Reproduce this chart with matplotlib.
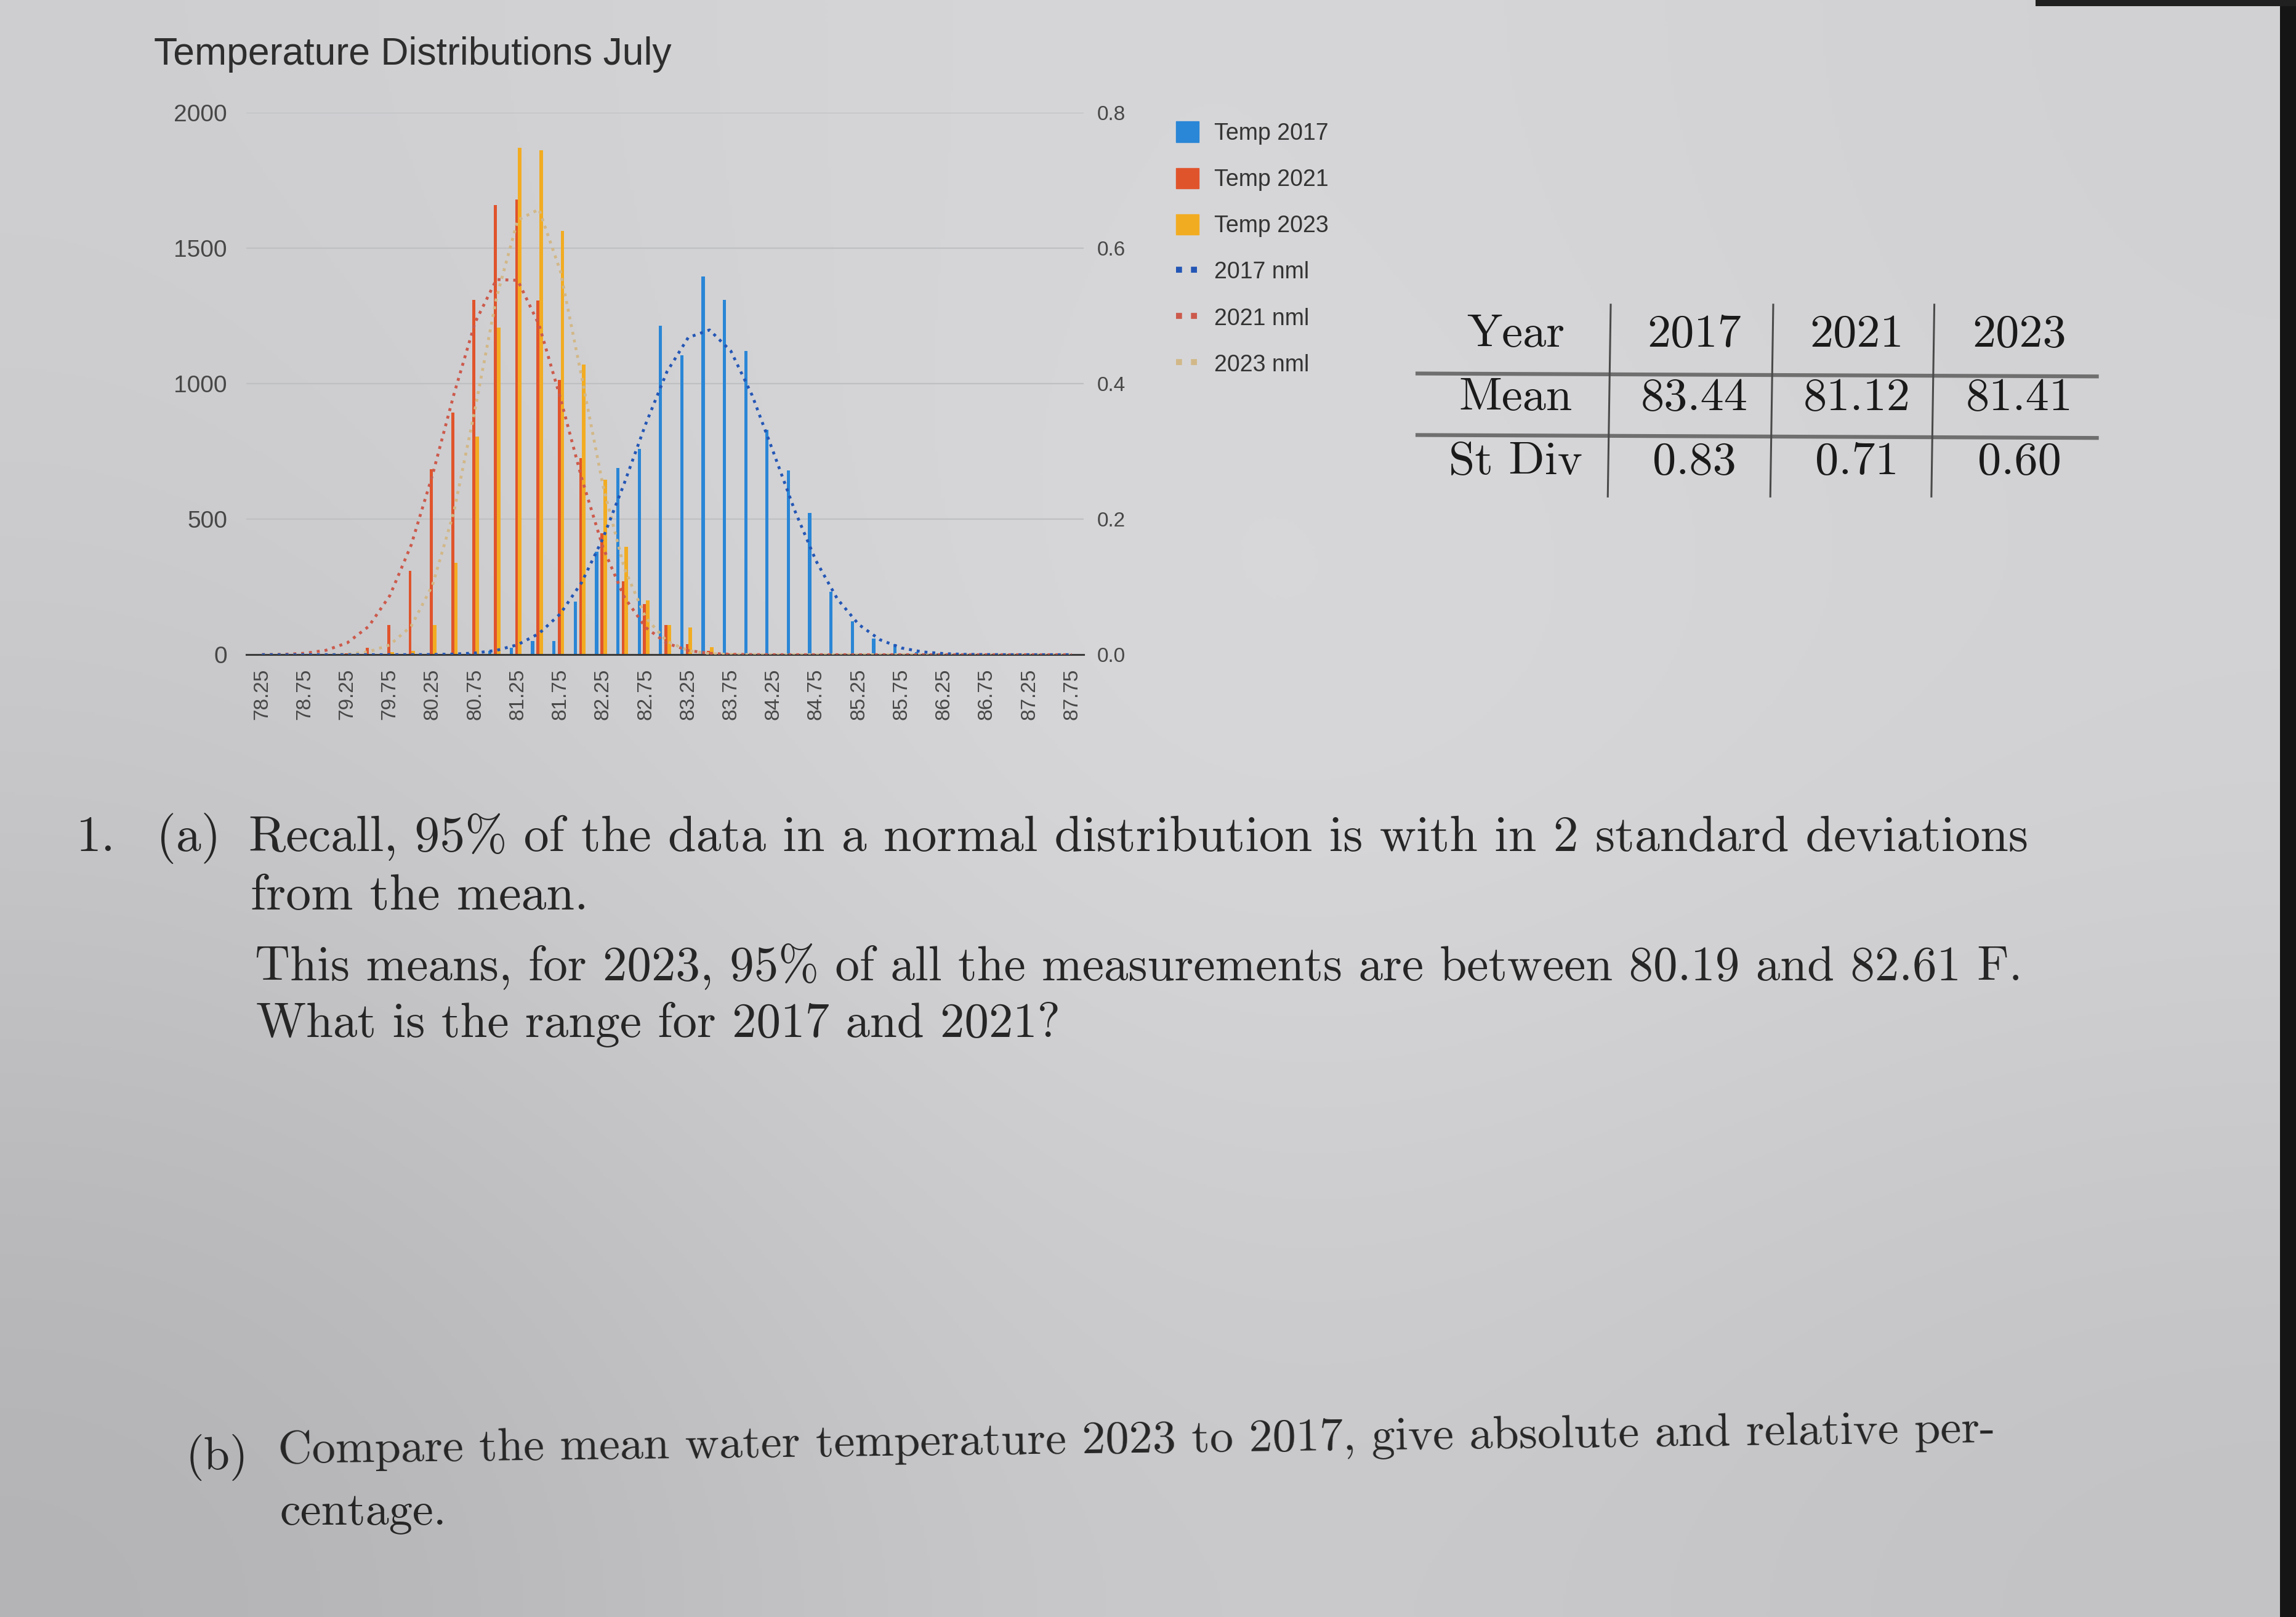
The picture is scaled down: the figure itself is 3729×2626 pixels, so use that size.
import numpy as np
import matplotlib
matplotlib.use("Agg")
import matplotlib.pyplot as plt
from matplotlib.patches import Patch, Rectangle
from matplotlib.lines import Line2D

# ---------------- data ----------------
categories = [78.25, 78.5, 78.75, 79.0, 79.25, 79.5, 79.75, 80.0, 80.25, 80.5,
              80.75, 81.0, 81.25, 81.5, 81.75, 82.0, 82.25, 82.5, 82.75, 83.0,
              83.25, 83.5, 83.75, 84.0, 84.25, 84.5, 84.75, 85.0, 85.25, 85.5,
              85.75, 86.0, 86.25, 86.5, 86.75, 87.0, 87.25, 87.5, 87.75]

temp_2017 = [0, 0, 0, 0, 0, 0, 0, 0, 0, 2,
             5, 15, 25, 50, 50, 195, 380, 690, 760, 1215,
             1105, 1395, 1310, 1120, 829, 681, 523, 233, 123, 59,
             40, 10, 5, 2, 0, 0, 0, 0, 0]

temp_2021 = [0, 0, 0, 2, 5, 25, 110, 310, 685, 893,
             1309, 1660, 1680, 1308, 1015, 725, 448, 270, 186, 110,
             40, 15, 5, 2, 0, 0, 0, 0, 0, 0,
             0, 0, 0, 0, 0, 0, 0, 0, 0]

temp_2023 = [0, 0, 0, 0, 0, 3, 10, 15, 110, 340,
             805, 1207, 1870, 1862, 1563, 1070, 645, 398, 200, 110,
             100, 28, 5, 0, 0, 0, 0, 0, 0, 0,
             0, 0, 0, 0, 0, 0, 0, 0, 0]

nml_2017 = [0, 0, 0, 0, 0, 0, 0.0000, 0.0001, 0.0003, 0.0009,
            0.0025, 0.0064, 0.0148, 0.0313, 0.0605, 0.1067, 0.1720, 0.2531, 0.3402, 0.4177,
            0.4682, 0.4794, 0.4483, 0.3828, 0.2986, 0.2127, 0.1383, 0.0822, 0.0446, 0.0221,
            0.0100, 0.0041, 0.0016, 0.0005, 0.0002, 0.0, 0.0, 0.0, 0.0]

nml_2021 = [0.0002, 0.0006, 0.0021, 0.0065, 0.0175, 0.0416, 0.0873, 0.1619, 0.2653, 0.3838,
            0.4905, 0.5539, 0.5526, 0.4869, 0.3791, 0.2607, 0.1583, 0.0850, 0.0403, 0.0169,
            0.0062, 0.0020, 0.0006, 0.0002, 0, 0, 0, 0, 0, 0,
            0, 0, 0, 0, 0, 0, 0, 0, 0]

nml_2023 = [0, 0, 0, 0.0002, 0.0010, 0.0042, 0.0145, 0.0420, 0.1026, 0.2105,
            0.3631, 0.5265, 0.6416, 0.6575, 0.5662, 0.4100, 0.2495, 0.1277, 0.0549, 0.0199,
            0.0060, 0.0015, 0.0003, 0.0001, 0, 0, 0, 0, 0, 0,
            0, 0, 0, 0, 0, 0, 0, 0, 0]

chart_title = "Temperature Distributions July"
series_labels = ["Temp 2017", "Temp 2021", "Temp 2023", "2017 nml", "2021 nml", "2023 nml"]
left_ticks = [0, 500, 1000, 1500, 2000]
right_ticks = [0.0, 0.2, 0.4, 0.6, 0.8]

table_header = ["Year", "2017", "2021", "2023"]
table_mean = ["Mean", "83.44", "81.12", "81.41"]
table_sd = ["St Div", "0.83", "0.71", "0.60"]

q_line1 = "Recall, 95% of the data in a normal distribution is with in 2 standard deviations"
q_line2 = "from the mean."
q_line3 = "This means, for 2023, 95% of all the measurements are between 80.19 and 82.61 F."
q_line4 = "What is the range for 2017 and 2021?"
q_line5 = "Compare the mean water temperature 2023 to 2017, give absolute and relative per-"
q_line6 = "centage."

# ---------------- style ----------------
plt.rcParams['font.family'] = ['Liberation Sans', 'DejaVu Sans']
SANS = ['Liberation Sans', 'DejaVu Sans']
SERIF = ['cmr10', 'DejaVu Serif']

c17, c21, c23 = '#2a86d6', '#e0542c', '#f2ac22'
n17, n21, n23 = '#2456b5', '#cc5a4c', '#d2b888'

W, H = 3729, 2626
SW, SH = 1568.0, 1104.0
fig = plt.figure(figsize=(W / 100, H / 100), dpi=100)


def fx(px):
    return px / SW


def fy(py):
    return 1 - py / SH


# background (photo of a screen: soft gray gradient)
bg = fig.add_axes([0, 0, 1, 1], zorder=-10)
grad = np.array([
    [[0.81, 0.81, 0.82], [0.85, 0.85, 0.86], [0.82, 0.82, 0.83]],
    [[0.78, 0.78, 0.79], [0.87, 0.87, 0.88], [0.83, 0.83, 0.84]],
    [[0.70, 0.70, 0.71], [0.81, 0.81, 0.82], [0.76, 0.76, 0.77]],
])
bg.imshow(grad, extent=[0, 1, 0, 1], aspect='auto', interpolation='bicubic', origin='upper')
bg.set_xlim(0, 1)
bg.set_ylim(0, 1)
bg.axis('off')
bg.add_patch(Rectangle((fx(1557), 0), 1 - fx(1557), 1, color='#151515', lw=0))
bg.add_patch(Rectangle((fx(1390), fy(4)), 1 - fx(1390), 1 - fy(4), color='#202020', lw=0))

# ---------------- chart ----------------
ax = fig.add_axes([fx(168), fy(447), fx(740) - fx(168), fy(77) - fy(447)])
ax.set_facecolor('none')
idx = np.arange(len(categories))

ax.bar(idx - 0.30, temp_2017, width=0.15, color=c17, zorder=3, lw=0)
ax.bar(idx - 0.05, temp_2021, width=0.14, color=c21, zorder=3, lw=0)
ax.bar(idx + 0.10, temp_2023, width=0.17, color=c23, zorder=3, lw=0)

ax.set_xlim(-0.75, 38.55)
ax.set_ylim(0, 2000)
ax.set_yticks(left_ticks)
ax.set_yticklabels([str(v) for v in left_ticks])
ax.set_xticks(idx[::2])
ax.set_xticklabels([f"{c:.2f}" for c in categories[::2]], rotation=90)
ax.tick_params(axis='x', length=0, pad=16, labelsize=24, labelcolor='#474747')
ax.tick_params(axis='y', length=0, pad=22, labelsize=28, labelcolor='#474747')
for s in ['left', 'right', 'top']:
    ax.spines[s].set_visible(False)
ax.spines['bottom'].set_color('#3a3a3a')
ax.spines['bottom'].set_linewidth(2.2)
ax.spines['bottom'].set_zorder(4)
ax.grid(axis='y', color='#bfc0c2', lw=1.6)
ax.set_axisbelow(True)

ax2 = ax.twinx()
ax2.set_ylim(0, 0.8)
ax2.set_yticks(right_ticks)
ax2.set_yticklabels([f"{v:.1f}" for v in right_ticks])
ax2.tick_params(axis='y', length=0, pad=16, labelsize=24, labelcolor='#474747')
for s in ax2.spines.values():
    s.set_visible(False)
dots = (0, (1, 1.7))
ax2.plot(idx, nml_2021, color=n21, lw=3.4, ls=dots, zorder=5)
ax2.plot(idx, nml_2023, color=n23, lw=3.4, ls=dots, zorder=5)
ax2.plot(idx, nml_2017, color=n17, lw=3.4, ls=dots, zorder=6)

# legend
handles = [Patch(color=c17), Patch(color=c21), Patch(color=c23),
           Line2D([], [], color=n17, lw=7, ls=(0, (1, 1.5))),
           Line2D([], [], color=n21, lw=7, ls=(0, (1, 1.5))),
           Line2D([], [], color=n23, lw=7, ls=(0, (1, 1.5)))]
fig.legend(handles, series_labels, loc='upper left', bbox_to_anchor=(fx(803), fy(83)),
           frameon=False, fontsize=27, handlelength=1.0, handleheight=1.0,
           handletextpad=0.65, labelspacing=1.0, borderpad=0, borderaxespad=0,
           labelcolor='#333333')

# title
t_title = fig.text(fx(105), fy(37), chart_title, ha='left', va='center', fontsize=42,
                   color='#2e2e2e', family=SANS)

# ---------------- table ----------------
col_x = [fx(1035), fx(1157), fx(1268), fx(1379)]
row_y = [fy(229), fy(272), fy(316)]
for r, row in enumerate([table_header, table_mean, table_sd]):
    for c, cell in enumerate(row):
        fig.text(col_x[c], row_y[r], cell, ha='center', va='center', fontsize=55,
                 color='#1a1a1a', family=SERIF)
for yy in [255, 297]:
    fig.add_artist(Line2D([fx(968), fx(1432)], [fy(yy), fy(yy + 2)], color='#6f6f6f', lw=4.5))
for xx in [1100, 1211, 1321]:
    fig.add_artist(Line2D([fx(xx), fx(xx - 2)], [fy(208), fy(339)], color='#4a4a4a', lw=2.2))

# ---------------- question text ----------------
qs = 58
tc = '#262626'
t1n = fig.text(fx(52), fy(581), "1.", ha='left', va='baseline', fontsize=qs, color=tc, family=SERIF)
t1a = fig.text(fx(107), fy(581), "(a)", ha='left', va='baseline', fontsize=qs, color=tc, family=SERIF)
t1 = fig.text(fx(170), fy(581), q_line1, ha='left', va='baseline', fontsize=qs, color=tc, family=SERIF)
t2 = fig.text(fx(171), fy(621), q_line2, ha='left', va='baseline', fontsize=qs, color=tc, family=SERIF)
t3 = fig.text(fx(174), fy(669), q_line3, ha='left', va='baseline', fontsize=qs, color=tc, family=SERIF)
t4 = fig.text(fx(175), fy(708), q_line4, ha='left', va='baseline', fontsize=qs, color=tc, family=SERIF)
t5b = fig.text(fx(127), fy(1003), "(b)", ha='left', va='baseline', fontsize=qs, color=tc, family=SERIF)
t5 = fig.text(fx(190), fy(999), q_line5, ha='left', va='baseline', fontsize=qs, color=tc, family=SERIF,
              rotation=0.7, rotation_mode='anchor')
t6 = fig.text(fx(191), fy(1041), q_line6, ha='left', va='baseline', fontsize=qs, color=tc, family=SERIF)

# fit the long lines to the widths seen in the reference
fig.canvas.draw()
rend = fig.canvas.get_renderer()


def fit(t, target_px, others=()):
    w = t.get_window_extent(rend).width
    fs = t.get_fontsize() * target_px / w
    t.set_fontsize(fs)
    for o in others:
        o.set_fontsize(fs)


scale = W / SW
fit(t1, (1387 - 170) * scale, (t1n, t1a, t2))
fit(t3, (1382 - 174) * scale, (t4,))
fit(t5, (1365 - 190) * scale, (t5b, t6))
fit(t_title, (459 - 105) * scale)

fig.savefig("out.png", dpi=100)
